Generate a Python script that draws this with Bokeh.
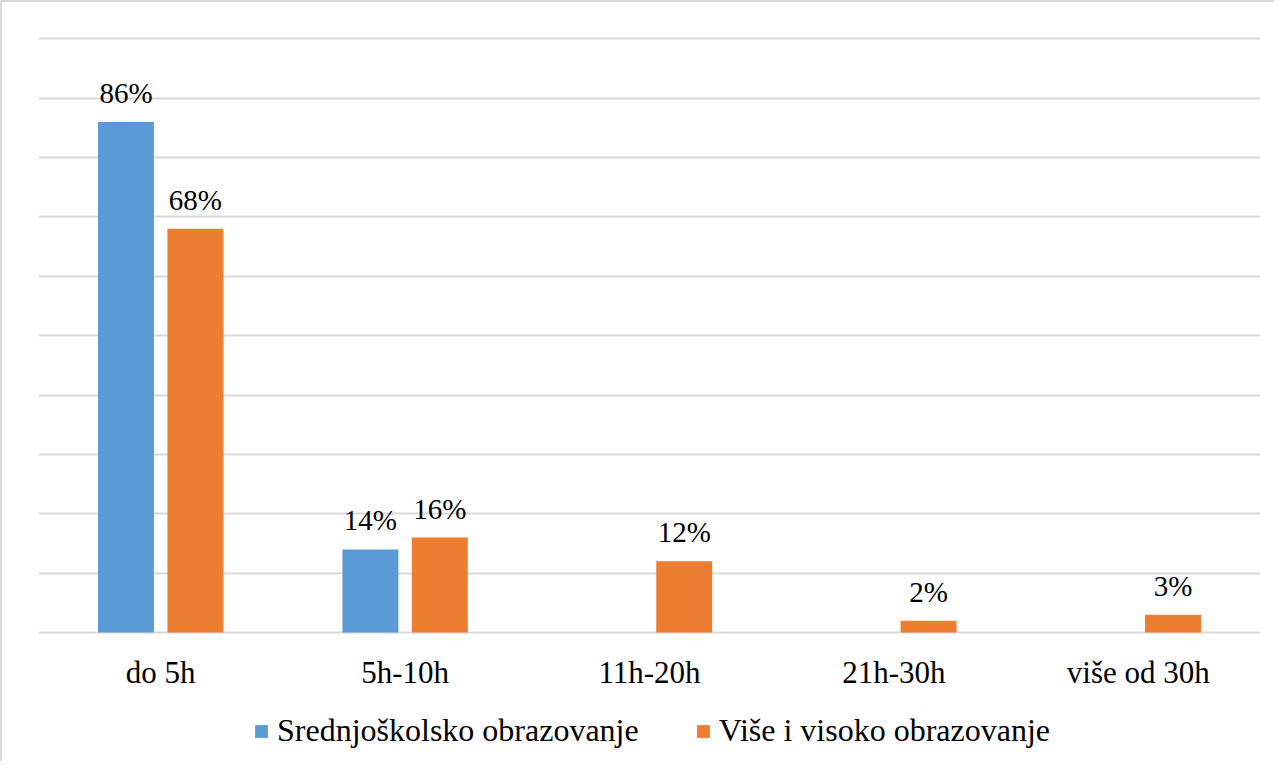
from bokeh.plotting import figure
from bokeh.models import (ColumnDataSource, FactorRange, FixedTicker, Legend, LegendItem,
                          LabelSet, Range1d)
from bokeh.transform import dodge
from bokeh.embed import file_html
from bokeh.resources import INLINE

categories = ["do 5h", "5h-10h", "11h-20h", "21h-30h", "više od 30h"]
series_names = ["Srednjoškolsko obrazovanje", "Više i visoko obrazovanje"]
srednjoskolsko = [86, 14, 0, 0, 0]
visoko = [68, 16, 12, 2, 3]
y_ticks = [0, 10, 20, 30, 40, 50, 60, 70, 80, 90, 100]

BLUE = "#5B9BD5"
ORANGE = "#ED7D31"
GRID = "#D9D9D9"
FONT = "Liberation Serif"

src = ColumnDataSource(dict(cat=categories, a=srednjoskolsko, b=visoko))
cat_src = ColumnDataSource(dict(cat=categories, y=[0] * len(categories)))
lab_a = ColumnDataSource(dict(cat=[c for c, v in zip(categories, srednjoskolsko) if v > 0],
                              v=[v for v in srednjoskolsko if v > 0],
                              t=[f"{v}%" for v in srednjoskolsko if v > 0]))
lab_b = ColumnDataSource(dict(cat=[c for c, v in zip(categories, visoko) if v > 0],
                              v=[v for v in visoko if v > 0],
                              t=[f"{v}%" for v in visoko if v > 0]))

# frame extends below the value axis so the category labels and legend sit inside it
p = figure(x_range=FactorRange(*categories, range_padding=0), y_range=Range1d(-21.73, 100.4),
           frame_width=1222, frame_height=725, output_backend="svg", toolbar_location=None,
           min_border_left=36, min_border_right=14, min_border_top=34, min_border_bottom=0)
p.x_range.factor_padding = 0
p.styles = {"border-left": "2px solid #D9D9D9", "border-top": "2px solid #D9D9D9"}

off = 0.142
w = 0.229
ra = p.vbar(x=dodge("cat", -off, range=p.x_range), top="a", width=w, source=src,
            fill_color=BLUE, line_color=None)
rb = p.vbar(x=dodge("cat", off, range=p.x_range), top="b", width=w, source=src,
            fill_color=ORANGE, line_color=None)

for s, o in ((lab_a, -off), (lab_b, off)):
    p.add_layout(LabelSet(x=dodge("cat", o, range=p.x_range), y="v", text="t", source=s,
                          text_align="center", text_baseline="alphabetic", y_offset=19,
                          text_font=FONT, text_font_size="29px", text_color="#000000"))

# category labels
p.add_layout(LabelSet(x="cat", y="y", text="cat", source=cat_src, text_align="center",
                      text_baseline="middle", y_offset=-40, text_font=FONT,
                      text_font_size="31px", text_color="#000000"))

p.outline_line_color = None
p.yaxis.visible = False
p.xaxis.visible = False
p.ygrid.ticker = FixedTicker(ticks=y_ticks)
p.ygrid.grid_line_color = GRID
p.ygrid.grid_line_width = 2
p.xgrid.grid_line_color = None

legend = Legend(items=[LegendItem(label=series_names[0], renderers=[ra]),
                       LegendItem(label=series_names[1], renderers=[rb])],
                orientation="horizontal", location=(215, 12),
                label_text_font=FONT, label_text_font_size="32px", label_text_color="#000000",
                glyph_width=16, glyph_height=16, label_standoff=8, spacing=56,
                border_line_color=None, background_fill_alpha=0, padding=0, margin=0)
p.add_layout(legend, "center")

open("out.html", "w").write(file_html(p, INLINE))
